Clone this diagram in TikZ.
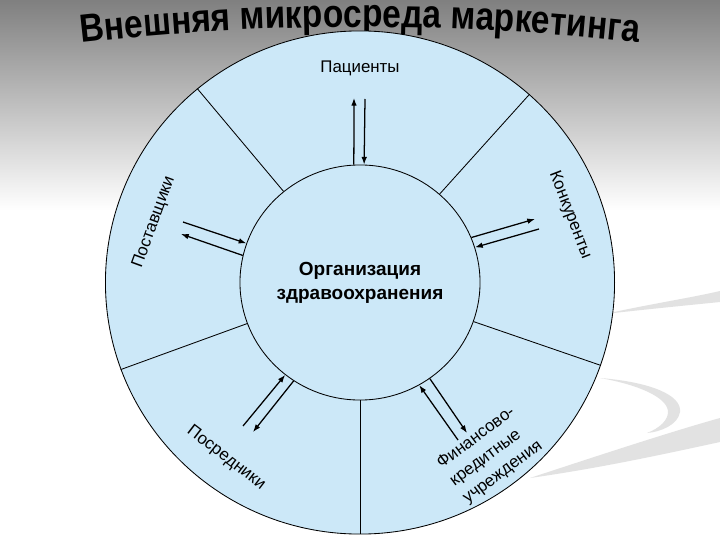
\documentclass[tikz,border=0pt]{standalone}
\usepackage{fontspec}
\setmainfont{Liberation Sans}
\newfontfamily\titlefont{Liberation Sans}[BoldFeatures={FakeStretch=0.85}]
\usetikzlibrary{arrows.meta}
\usetikzlibrary{shapes.geometric}
\usetikzlibrary{decorations.text}
\definecolor{skyfill}{RGB}{204,232,248}
\definecolor{swoosh}{RGB}{226,226,226}

\begin{document}
\begin{tikzpicture}[x=0.025cm, y=0.025cm, >={Latex[length=5.5pt,width=4pt]},
    ring/.style = {draw, ellipse, fill=skyfill, line width=0.6pt, inner sep=0pt},
    split/.style = {line width=0.6pt},
    link/.style = {->, line width=0.9pt},
    sector/.style = {font=\fontsize{12}{15.5}\selectfont}]
    \useasboundingbox (0,0) rectangle (720,540);
    % Background
    \fill[white] (0,0) rectangle (720,540);
    \shade[top color=black!50, bottom color=white] (0,330) rectangle (720,540);
    \fill[swoosh] (605,226) .. controls (650,236) and (690,242) .. (720,249)
        -- (720,238) .. controls (680,234) and (640,230) .. (605,226) -- cycle;
    \fill[swoosh] (600,162) .. controls (650,158) and (682,145) .. (680,128)
        .. controls (678,115) and (660,108) .. (647,107)
        .. controls (660,112) and (668,120) .. (668,128)
        .. controls (668,142) and (640,155) .. (600,162) -- cycle;
    \fill[swoosh] (530,62) .. controls (600,85) and (670,108) .. (720,122)
        -- (720,98) .. controls (660,85) and (600,72) .. (530,62) -- cycle;

    % Title
    \path[decorate, decoration={text along path, text align=center,
        text={|\titlefont\bfseries\fontsize{28}{32}\selectfont|Внешняя микросреда маркетинга}}]
        (80,497) arc[start angle=96.54, end angle=83.46, radius=61.45cm];

    % Nodes
    \node[ring, minimum width=12.725cm, minimum height=12.575cm] (env) at (360,257.5) {};
    \node[ring, minimum width=6cm, minimum height=5.875cm, align=center,
        font=\bfseries\fontsize{13.5}{17}\selectfont] (org) at (360,257.5) {Организация\\здравоохранения};
    \draw[split] (org.48) -- (env.48);
    \draw[split] (org.130) -- (env.130);
    \draw[split] (org.200) -- (env.200);
    \draw[split] (org.270) -- (env.270);
    \draw[split] (org.341) -- (env.341);

    \node[sector] (pat) at (360,472) {Пациенты};
    \node[sector, rotate=70] (sup) at (154,318) {Поставщики};
    \node[sector, rotate=-69] (comp) at (570,325) {Конкуренты};
    \node[sector, rotate=-37.5] (mid) at (226,82) {Посредники};
    \node[sector, rotate=36.6, align=left] (fin) at (490,85) {Финансово-\\кредитные\\учреждения};

    % Edges
    \coordinate (patO) at (354,442);
    \coordinate (patI) at (365,441);
    \draw[link] (org.93) -- (patO);
    \draw[link] (patI) -- (org.88);

    \coordinate (supI) at (183,318);
    \coordinate (supO) at (181,306);
    \draw[link] (supI) -- (org.161);
    \draw[link] (org.167) -- (supO);

    \coordinate (compO) at (535,321);
    \coordinate (compI) at (539,311);
    \draw[link] (org.22) -- (compO);
    \draw[link] (compI) -- (org.17);

    \coordinate (midI) at (243,114);
    \coordinate (midO) at (253,108);
    \draw[link] (midI) -- (org.231);
    \draw[link] (org.236) -- (midO);

    \coordinate (finI) at (458,100);
    \coordinate (finO) at (467,107);
    \draw[link] (finI) -- (org.300);
    \draw[link] (org.306) -- (finO);

\end{tikzpicture}
\end{document}
